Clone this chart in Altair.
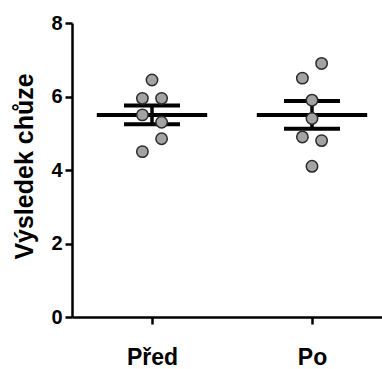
import altair as alt
import pandas as pd

# Walking score before and after, one value per subject
skupiny = ["Před", "Po"]
hodnoty_pred = [6.45, 5.95, 5.95, 5.5, 5.3, 4.85, 4.5]
hodnoty_po = [6.9, 6.5, 5.9, 5.4, 4.9, 4.8, 4.1]
# swarm column of each point (-1 left, 0 centre, 1 right)
roj_pred = [0, -1, 1, -1, 1, 1, -1]
roj_po = [1, -1, 0, 0, -1, 1, 0]
y_ticks = [0, 2, 4, 6, 8]

rows = []
for i, (vals, roj) in enumerate([(hodnoty_pred, roj_pred), (hodnoty_po, roj_po)]):
    for v, r in zip(vals, roj):
        rows.append({"skupina": skupiny[i], "pozice": i + 1, "hodnota": v, "roj": r})
df = pd.DataFrame(rows)

FONT = "Liberation Sans"
x_scale = alt.Scale(domain=[0.5, 2.4375], nice=False, zero=False)
y_scale = alt.Scale(domain=[0, 8], nice=False)

label_expr = " : ".join(
    [f"datum.value == {i + 1} ? '{s}'" for i, s in enumerate(skupiny)] + ["''"]
)

x_axis = alt.Axis(
    values=[1, 2], labelExpr=label_expr, title=None, grid=False,
    domainColor="black", domainWidth=2.5, tickColor="black", tickWidth=2.5,
    tickSize=7, labelFont=FONT, labelFontWeight="bold", labelFontSize=23,
    labelColor="black", labelBaseline="alphabetic", labelPadding=40,
)
y_axis = alt.Axis(
    values=y_ticks, title="Výsledek chůze", grid=False,
    domainColor="black", domainWidth=2.5, tickColor="black", tickWidth=2.5,
    tickSize=7, labelFont=FONT, labelFontWeight="bold", labelFontSize=20,
    labelColor="black", labelPadding=3, titleFont=FONT, titleFontWeight="bold",
    titleFontSize=25, titleColor="black", titleBaseline="alphabetic",
    titleX=-40, titleY=143,
)

base = alt.Chart(df)

# mean and standard error per group
stats = base.transform_aggregate(
    prumer="mean(hodnota)", sem="stderr(hodnota)", groupby=["pozice"]
).transform_calculate(
    dolni="datum.prumer - datum.sem",
    horni="datum.prumer + datum.sem",
    m1="datum.pozice - 0.345",
    m2="datum.pozice + 0.345",
    s1="datum.pozice - 0.175",
    s2="datum.pozice + 0.175",
)

mean_rule = stats.mark_rule(color="black", strokeWidth=4).encode(
    x=alt.X("m1:Q", scale=x_scale, axis=x_axis),
    x2="m2:Q",
    y=alt.Y("prumer:Q", scale=y_scale, axis=y_axis),
)
sem_top = stats.mark_rule(color="black", strokeWidth=4).encode(
    x=alt.X("s1:Q", scale=x_scale), x2="s2:Q", y=alt.Y("horni:Q", scale=y_scale)
)
sem_bot = stats.mark_rule(color="black", strokeWidth=4).encode(
    x=alt.X("s1:Q", scale=x_scale), x2="s2:Q", y=alt.Y("dolni:Q", scale=y_scale)
)
sem_vert = stats.mark_rule(color="black", strokeWidth=3.5).encode(
    x=alt.X("pozice:Q", scale=x_scale),
    y=alt.Y("dolni:Q", scale=y_scale),
    y2="horni:Q",
)

points = base.transform_calculate(
    xp="datum.pozice + datum.roj * 0.06"
).mark_circle(
    size=130, fill="#a3a3a3", fillOpacity=1, stroke="#2b2b2b", strokeWidth=1.5
).encode(
    x=alt.X("xp:Q", scale=x_scale),
    y=alt.Y("hodnota:Q", scale=y_scale),
)

chart = alt.layer(mean_rule, sem_top, sem_bot, sem_vert, points).properties(
    width=310,
    height=294,
    autosize=alt.AutoSizeParams(type="none"),
    padding={"left": 72, "top": 23, "right": 0, "bottom": 52},
    background="white",
).configure_view(stroke=None)

chart.save("out.html", embed_options={"renderer": "svg", "actions": False})
